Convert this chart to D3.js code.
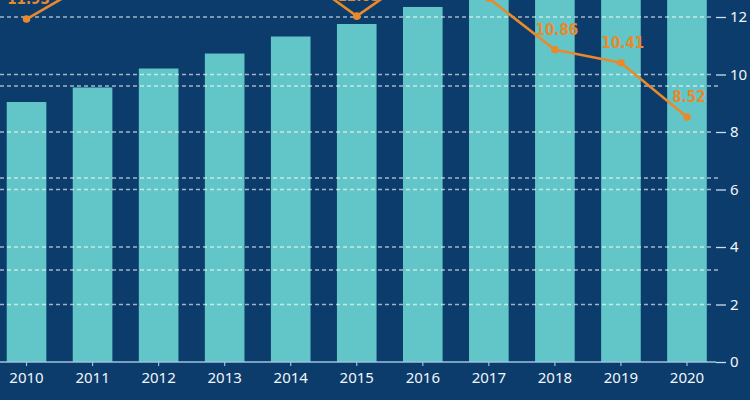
<!DOCTYPE html>
<html>
<head>
<meta charset="utf-8">
<script src="https://cdn.jsdelivr.net/npm/d3@7"></script>
<style>
html,body{margin:0;padding:0;background:#0b3c6b;}
svg{display:block;}
</style>
</head>
<body>
<svg id="chart" width="750" height="400"></svg>
<script>
const years = ["2010","2011","2012","2013","2014","2015","2016","2017","2018","2019","2020"];
const barValues = [282.6, 298.4, 319, 335.3, 353.8, 367.4, 385.9, 405, 425, 440, 455];
const rateValues = [11.93, 13.25, 13.5, 13.3, 13.7, 12.03, 13.63, 12.65, 10.86, 10.41, 8.52];
const rightTicks = [0, 2, 4, 6, 8, 10, 12];
const leftTicks = [100, 200, 300];

const W = 750, H = 400;
const svg = d3.select("#chart");
svg.append("rect").attr("width", W).attr("height", H).attr("fill", "#0b3c6b");

const x = d3.scaleBand().domain(years).range([-6.5, 720]).paddingInner(0.4).paddingOuter(0.2);
const yR = d3.scaleLinear().domain([0, 12]).range([362, 17]);
const yL = d3.scaleLinear().domain([0, 300]).range([362, 86]);

// bars
svg.append("g").selectAll("rect").data(years).join("rect")
  .attr("x", d => x(d))
  .attr("width", x.bandwidth())
  .attr("y", (d, i) => yL(barValues[i]))
  .attr("height", (d, i) => yL(0) - yL(barValues[i]))
  .attr("fill", "#62c6c9");

// left gridlines
svg.append("g").selectAll("line").data(leftTicks).join("line")
  .attr("x1", 0).attr("x2", 720)
  .attr("y1", d => yL(d)).attr("y2", d => yL(d))
  .attr("stroke", "#ffffff").attr("stroke-opacity", 0.62)
  .attr("stroke-width", 1.3).attr("stroke-dasharray", "4,3");

// right gridlines
svg.append("g").selectAll("line").data(rightTicks.filter(d => d > 0)).join("line")
  .attr("x1", 0).attr("x2", 713)
  .attr("y1", d => yR(d)).attr("y2", d => yR(d))
  .attr("stroke", "#ffffff").attr("stroke-opacity", 0.62)
  .attr("stroke-width", 1.3).attr("stroke-dasharray", "4,3");

// right axis
const rAxis = d3.axisRight(yR).tickValues(rightTicks).tickSize(10).tickPadding(4);
const rg = svg.append("g").attr("transform", "translate(716,0)").call(rAxis);
rg.select(".domain").remove();
rg.selectAll(".tick line").attr("stroke", "#c9ddef").attr("stroke-width", 1.3);
rg.selectAll(".tick text").attr("fill", "#f2f6fa")
  .style("font-family", "'Noto Sans', sans-serif").style("font-size", "15px");

// x axis
const xAxis = d3.axisBottom(x).tickSize(4).tickPadding(6).tickSizeOuter(0);
const xg = svg.append("g").attr("transform", "translate(0,362)").call(xAxis);
xg.select(".domain").attr("d", "M0,0H716").attr("stroke", "#9cc3e0").attr("stroke-width", 1.5);
xg.selectAll(".tick line").attr("stroke", "#9cc3e0").attr("stroke-width", 1.2);
xg.selectAll(".tick text").attr("fill", "#f2f6fa")
  .style("font-family", "'Noto Sans', sans-serif").style("font-size", "15px");

// line
const pts = years.map((d, i) => [x(d) + x.bandwidth() / 2, yR(rateValues[i])]);
svg.append("path")
  .attr("d", d3.line()(pts))
  .attr("fill", "none").attr("stroke", "#e8892b").attr("stroke-width", 2.6)
  .attr("stroke-linejoin", "round");
svg.append("g").selectAll("circle").data(pts).join("circle")
  .attr("cx", d => d[0]).attr("cy", d => d[1]).attr("r", 3.8).attr("fill", "#e8892b");
svg.append("g").selectAll("text").data(years).join("text")
  .attr("x", (d, i) => pts[i][0] + 2)
  .attr("y", (d, i) => pts[i][1] - 15)
  .attr("text-anchor", "middle")
  .attr("fill", "#e8892b")
  .style("font-family", "'DejaVu Sans Condensed', 'DejaVu Sans', sans-serif")
  .style("font-weight", "bold").style("font-size", "15px")
  .text((d, i) => rateValues[i]);
</script>
</body>
</html>
